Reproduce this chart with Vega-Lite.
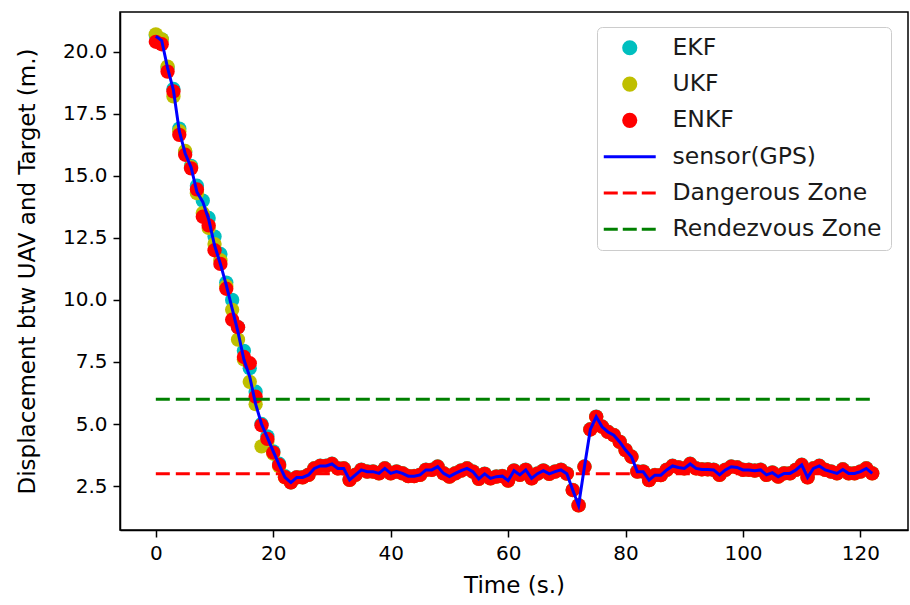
{
  "$schema": "https://vega.github.io/schema/vega-lite/v6.json",
  "width": 788,
  "height": 518,
  "autosize": {"type": "none"},
  "padding": {"left": 120, "top": 12, "right": 2, "bottom": 75},
  "background": "white",
  "config": {
    "view": {"stroke": "black", "strokeWidth": 1.5},
    "font": "DejaVu Sans",
    "axis": {
      "grid": false,
      "domainColor": "black",
      "domainWidth": 1.5,
      "tickColor": "black",
      "tickWidth": 1.5,
      "tickSize": 7,
      "labelFont": "DejaVu Sans",
      "labelFontSize": 20,
      "labelColor": "black",
      "labelPadding": 6,
      "titleFont": "DejaVu Sans",
      "titleFontSize": 23,
      "titleFontWeight": "normal",
      "titleColor": "black"
    },
    "legend": {
      "title": null,
      "orient": "none",
      "legendX": 477,
      "legendY": 15,
      "padding": 9,
      "fillColor": "white",
      "strokeColor": "#cccccc",
      "cornerRadius": 5,
      "symbolSize": 200,
      "symbolOffset": 12,
      "labelOffset": 31,
      "rowPadding": 11.3,
      "labelLimit": 400,
      "labelFont": "DejaVu Sans",
      "labelFontSize": 23.5,
      "labelColor": "#1a1a1a"
    }
  },
  "datasets": {
    "track": [
      {"t": 0, "gps": 20.62, "enkf": 20.4, "ekf": 20.65, "ukf": 20.7},
      {"t": 1, "gps": 20.45, "enkf": 20.3, "ekf": 20.5, "ukf": 20.5},
      {"t": 2, "gps": 19.35, "enkf": 19.2, "ekf": 19.35, "ukf": 19.4},
      {"t": 3, "gps": 18.45, "enkf": 18.4, "ekf": 18.5, "ukf": 18.2},
      {"t": 4, "gps": 16.8, "enkf": 16.65, "ekf": 16.9, "ukf": 16.8},
      {"t": 5, "gps": 15.9, "enkf": 15.85, "ekf": 15.95, "ukf": 16.0},
      {"t": 6, "gps": 15.35, "enkf": 15.3, "ekf": 15.4, "ukf": 15.35},
      {"t": 7, "gps": 14.35, "enkf": 14.45, "ekf": 14.6, "ukf": 14.3},
      {"t": 8, "gps": 13.95, "enkf": 13.35, "ekf": 14.0, "ukf": 13.5},
      {"t": 9, "gps": 13.25, "enkf": 13.0, "ekf": 13.3, "ukf": 12.9},
      {"t": 10, "gps": 12.2, "enkf": 12.0, "ekf": 12.55, "ukf": 12.25},
      {"t": 11, "gps": 11.45, "enkf": 11.45, "ekf": 11.85, "ukf": 11.6},
      {"t": 12, "gps": 10.6, "enkf": 10.45, "ekf": 10.7, "ukf": 10.55},
      {"t": 13, "gps": 9.65, "enkf": 9.2, "ekf": 10.0, "ukf": 9.6},
      {"t": 14, "gps": 8.7, "enkf": 8.9, "ekf": 8.9, "ukf": 8.4},
      {"t": 15, "gps": 7.6, "enkf": 7.7, "ekf": 7.95, "ukf": 7.6},
      {"t": 16, "gps": 6.9, "enkf": 7.45, "ekf": 7.25, "ukf": 6.7},
      {"t": 17, "gps": 5.8, "enkf": 6.1, "ekf": 6.3, "ukf": 5.8},
      {"t": 18, "gps": 5.0, "enkf": 4.95, "ekf": 5.0, "ukf": 4.1},
      {"t": 19, "gps": 4.45, "enkf": 4.4, "ekf": 4.5, "ukf": 4.3},
      {"t": 20, "gps": 3.9, "enkf": 3.85, "ekf": 3.9, "ukf": 3.8},
      {"t": 21, "gps": 3.35, "enkf": 3.35, "ekf": 3.4, "ukf": 3.3},
      {"t": 22, "gps": 2.85, "enkf": 2.86, "ekf": 2.9, "ukf": 2.85},
      {"t": 23, "gps": 2.64, "enkf": 2.65, "ekf": 2.65, "ukf": 2.65},
      {"t": 24, "gps": 2.85, "enkf": 2.85, "ekf": 2.86, "ukf": 2.85},
      {"t": 25, "gps": 2.85, "enkf": 2.85, "ekf": 2.86, "ukf": 2.85},
      {"t": 26, "gps": 2.95, "enkf": 2.95, "ekf": 2.96, "ukf": 2.95},
      {"t": 27, "gps": 3.21, "enkf": 3.21, "ekf": 3.22, "ukf": 3.21},
      {"t": 28, "gps": 3.31, "enkf": 3.31, "ekf": 3.32, "ukf": 3.31},
      {"t": 29, "gps": 3.31, "enkf": 3.31, "ekf": 3.32, "ukf": 3.31},
      {"t": 30, "gps": 3.39, "enkf": 3.39, "ekf": 3.4, "ukf": 3.39},
      {"t": 31, "gps": 3.21, "enkf": 3.21, "ekf": 3.22, "ukf": 3.21},
      {"t": 32, "gps": 3.21, "enkf": 3.21, "ekf": 3.22, "ukf": 3.21},
      {"t": 33, "gps": 2.75, "enkf": 2.75, "ekf": 2.76, "ukf": 2.75},
      {"t": 34, "gps": 2.95, "enkf": 2.95, "ekf": 2.96, "ukf": 2.95},
      {"t": 35, "gps": 3.15, "enkf": 3.15, "ekf": 3.16, "ukf": 3.15},
      {"t": 36, "gps": 3.08, "enkf": 3.08, "ekf": 3.09, "ukf": 3.08},
      {"t": 37, "gps": 3.08, "enkf": 3.08, "ekf": 3.09, "ukf": 3.08},
      {"t": 38, "gps": 3.01, "enkf": 3.01, "ekf": 3.02, "ukf": 3.01},
      {"t": 39, "gps": 3.21, "enkf": 3.21, "ekf": 3.22, "ukf": 3.21},
      {"t": 40, "gps": 3.01, "enkf": 3.01, "ekf": 3.02, "ukf": 3.01},
      {"t": 41, "gps": 3.08, "enkf": 3.08, "ekf": 3.09, "ukf": 3.08},
      {"t": 42, "gps": 3.01, "enkf": 3.01, "ekf": 3.02, "ukf": 3.01},
      {"t": 43, "gps": 2.9, "enkf": 2.9, "ekf": 2.91, "ukf": 2.9},
      {"t": 44, "gps": 2.9, "enkf": 2.9, "ekf": 2.91, "ukf": 2.9},
      {"t": 45, "gps": 2.95, "enkf": 2.95, "ekf": 2.96, "ukf": 2.95},
      {"t": 46, "gps": 3.15, "enkf": 3.15, "ekf": 3.16, "ukf": 3.15},
      {"t": 47, "gps": 3.15, "enkf": 3.15, "ekf": 3.16, "ukf": 3.15},
      {"t": 48, "gps": 3.28, "enkf": 3.28, "ekf": 3.29, "ukf": 3.28},
      {"t": 49, "gps": 3.01, "enkf": 3.01, "ekf": 3.02, "ukf": 3.01},
      {"t": 50, "gps": 2.88, "enkf": 2.88, "ekf": 2.89, "ukf": 2.88},
      {"t": 51, "gps": 3.01, "enkf": 3.01, "ekf": 3.02, "ukf": 3.01},
      {"t": 52, "gps": 3.12, "enkf": 3.12, "ekf": 3.13, "ukf": 3.12},
      {"t": 53, "gps": 3.21, "enkf": 3.21, "ekf": 3.22, "ukf": 3.21},
      {"t": 54, "gps": 3.08, "enkf": 3.08, "ekf": 3.09, "ukf": 3.08},
      {"t": 55, "gps": 2.79, "enkf": 2.79, "ekf": 2.8, "ukf": 2.79},
      {"t": 56, "gps": 2.99, "enkf": 2.99, "ekf": 3.0, "ukf": 2.99},
      {"t": 57, "gps": 2.81, "enkf": 2.81, "ekf": 2.82, "ukf": 2.81},
      {"t": 58, "gps": 2.88, "enkf": 2.88, "ekf": 2.89, "ukf": 2.88},
      {"t": 59, "gps": 2.9, "enkf": 2.9, "ekf": 2.91, "ukf": 2.9},
      {"t": 60, "gps": 2.72, "enkf": 2.72, "ekf": 2.73, "ukf": 2.72},
      {"t": 61, "gps": 3.12, "enkf": 3.12, "ekf": 3.13, "ukf": 3.12},
      {"t": 62, "gps": 2.95, "enkf": 2.95, "ekf": 2.96, "ukf": 2.95},
      {"t": 63, "gps": 3.15, "enkf": 3.15, "ekf": 3.16, "ukf": 3.15},
      {"t": 64, "gps": 2.81, "enkf": 2.81, "ekf": 2.82, "ukf": 2.81},
      {"t": 65, "gps": 3.0, "enkf": 3.0, "ekf": 3.01, "ukf": 3.0},
      {"t": 66, "gps": 3.12, "enkf": 3.12, "ekf": 3.13, "ukf": 3.12},
      {"t": 67, "gps": 2.99, "enkf": 2.99, "ekf": 3.0, "ukf": 2.99},
      {"t": 68, "gps": 3.08, "enkf": 3.08, "ekf": 3.09, "ukf": 3.08},
      {"t": 69, "gps": 3.15, "enkf": 3.15, "ekf": 3.16, "ukf": 3.15},
      {"t": 70, "gps": 3.0, "enkf": 3.0, "ekf": 3.01, "ukf": 3.0},
      {"t": 71, "gps": 2.34, "enkf": 2.34, "ekf": 2.35, "ukf": 2.34},
      {"t": 72, "gps": 1.72, "enkf": 1.72, "ekf": 1.73, "ukf": 1.72},
      {"t": 73, "gps": 3.28, "enkf": 3.28, "ekf": 3.29, "ukf": 3.28},
      {"t": 74, "gps": 4.78, "enkf": 4.78, "ekf": 4.79, "ukf": 4.78},
      {"t": 75, "gps": 5.29, "enkf": 5.29, "ekf": 5.3, "ukf": 5.29},
      {"t": 76, "gps": 4.89, "enkf": 4.89, "ekf": 4.9, "ukf": 4.89},
      {"t": 77, "gps": 4.68, "enkf": 4.68, "ekf": 4.69, "ukf": 4.68},
      {"t": 78, "gps": 4.55, "enkf": 4.55, "ekf": 4.56, "ukf": 4.55},
      {"t": 79, "gps": 4.28, "enkf": 4.28, "ekf": 4.29, "ukf": 4.28},
      {"t": 80, "gps": 3.95, "enkf": 3.95, "ekf": 3.96, "ukf": 3.95},
      {"t": 81, "gps": 3.68, "enkf": 3.68, "ekf": 3.69, "ukf": 3.68},
      {"t": 82, "gps": 3.08, "enkf": 3.08, "ekf": 3.09, "ukf": 3.08},
      {"t": 83, "gps": 3.08, "enkf": 3.08, "ekf": 3.09, "ukf": 3.08},
      {"t": 84, "gps": 2.74, "enkf": 2.74, "ekf": 2.75, "ukf": 2.74},
      {"t": 85, "gps": 2.94, "enkf": 2.94, "ekf": 2.95, "ukf": 2.94},
      {"t": 86, "gps": 2.94, "enkf": 2.94, "ekf": 2.95, "ukf": 2.94},
      {"t": 87, "gps": 3.15, "enkf": 3.15, "ekf": 3.16, "ukf": 3.15},
      {"t": 88, "gps": 3.31, "enkf": 3.31, "ekf": 3.32, "ukf": 3.31},
      {"t": 89, "gps": 3.25, "enkf": 3.25, "ekf": 3.26, "ukf": 3.25},
      {"t": 90, "gps": 3.21, "enkf": 3.21, "ekf": 3.22, "ukf": 3.21},
      {"t": 91, "gps": 3.39, "enkf": 3.39, "ekf": 3.4, "ukf": 3.39},
      {"t": 92, "gps": 3.21, "enkf": 3.21, "ekf": 3.22, "ukf": 3.21},
      {"t": 93, "gps": 3.17, "enkf": 3.17, "ekf": 3.18, "ukf": 3.17},
      {"t": 94, "gps": 3.17, "enkf": 3.17, "ekf": 3.18, "ukf": 3.17},
      {"t": 95, "gps": 3.15, "enkf": 3.15, "ekf": 3.16, "ukf": 3.15},
      {"t": 96, "gps": 2.95, "enkf": 2.95, "ekf": 2.96, "ukf": 2.95},
      {"t": 97, "gps": 3.15, "enkf": 3.15, "ekf": 3.16, "ukf": 3.15},
      {"t": 98, "gps": 3.28, "enkf": 3.28, "ekf": 3.29, "ukf": 3.28},
      {"t": 99, "gps": 3.25, "enkf": 3.25, "ekf": 3.26, "ukf": 3.25},
      {"t": 100, "gps": 3.15, "enkf": 3.15, "ekf": 3.16, "ukf": 3.15},
      {"t": 101, "gps": 3.15, "enkf": 3.15, "ekf": 3.16, "ukf": 3.15},
      {"t": 102, "gps": 3.12, "enkf": 3.12, "ekf": 3.13, "ukf": 3.12},
      {"t": 103, "gps": 3.15, "enkf": 3.15, "ekf": 3.16, "ukf": 3.15},
      {"t": 104, "gps": 2.95, "enkf": 2.95, "ekf": 2.96, "ukf": 2.95},
      {"t": 105, "gps": 3.04, "enkf": 3.04, "ekf": 3.05, "ukf": 3.04},
      {"t": 106, "gps": 2.88, "enkf": 2.88, "ekf": 2.89, "ukf": 2.88},
      {"t": 107, "gps": 3.01, "enkf": 3.01, "ekf": 3.02, "ukf": 3.01},
      {"t": 108, "gps": 3.01, "enkf": 3.01, "ekf": 3.02, "ukf": 3.01},
      {"t": 109, "gps": 3.15, "enkf": 3.15, "ekf": 3.16, "ukf": 3.15},
      {"t": 110, "gps": 3.35, "enkf": 3.35, "ekf": 3.36, "ukf": 3.35},
      {"t": 111, "gps": 2.85, "enkf": 2.85, "ekf": 2.86, "ukf": 2.85},
      {"t": 112, "gps": 3.21, "enkf": 3.21, "ekf": 3.22, "ukf": 3.21},
      {"t": 113, "gps": 3.31, "enkf": 3.31, "ekf": 3.32, "ukf": 3.31},
      {"t": 114, "gps": 3.15, "enkf": 3.15, "ekf": 3.16, "ukf": 3.15},
      {"t": 115, "gps": 3.08, "enkf": 3.08, "ekf": 3.09, "ukf": 3.08},
      {"t": 116, "gps": 3.01, "enkf": 3.01, "ekf": 3.02, "ukf": 3.01},
      {"t": 117, "gps": 3.17, "enkf": 3.17, "ekf": 3.18, "ukf": 3.17},
      {"t": 118, "gps": 3.01, "enkf": 3.01, "ekf": 3.02, "ukf": 3.01},
      {"t": 119, "gps": 3.01, "enkf": 3.01, "ekf": 3.02, "ukf": 3.01},
      {"t": 120, "gps": 3.08, "enkf": 3.08, "ekf": 3.09, "ukf": 3.08},
      {"t": 121, "gps": 3.21, "enkf": 3.21, "ekf": 3.22, "ukf": 3.21},
      {"t": 122, "gps": 3.01, "enkf": 3.01, "ekf": 3.02, "ukf": 3.01}
    ],
    "zones": [
      {"zone": "Dangerous Zone", "y": 3, "t0": 0, "t1": 122},
      {"zone": "Rendezvous Zone", "y": 6, "t0": 0, "t1": 122}
    ]
  },
  "encoding": {
    "x": {
      "field": "t",
      "type": "quantitative",
      "scale": {"domain": [-6.1, 128.1], "nice": false, "zero": false},
      "axis": {"values": [0, 20, 40, 60, 80, 100, 120], "title": "Time (s.)", "titlePadding": 11}
    }
  },
  "layer": [
    {
      "data": {"name": "track"},
      "mark": {"type": "point", "filled": true, "shape": "circle", "size": 205, "opacity": 1},
      "encoding": {
        "y": {
          "field": "ekf",
          "type": "quantitative",
          "scale": {"domain": [0.73, 21.6], "nice": false, "zero": false},
          "axis": {"values": [2.5, 5, 7.5, 10, 12.5, 15, 17.5, 20], "format": ".1f", "title": "Displacement btw UAV and Target (m.)", "titlePadding": 23}
        },
        "color": {
          "datum": "EKF",
          "type": "nominal",
          "scale": {
            "domain": ["EKF", "UKF", "ENKF", "sensor(GPS)", "Dangerous Zone", "Rendezvous Zone"],
            "range": ["#00bfbf", "#bfbf00", "#ff0000", "#0000ff", "#ff0000", "#008000"]
          },
          "legend": {
            "title": null,
            "encode": {
              "symbols": {
                "update": {
                  "shape": {"signal": "(datum.value === 'EKF' || datum.value === 'UKF' || datum.value === 'ENKF') ? 'circle' : 'stroke'"},
                  "size": {"signal": "(datum.value === 'EKF' || datum.value === 'UKF' || datum.value === 'ENKF') ? 230 : 2700"},
                  "fill": {"signal": "(datum.value === 'EKF' || datum.value === 'UKF' || datum.value === 'ENKF') ? scale('color', datum.value) : 'transparent'"},
                  "stroke": {"signal": "scale('color', datum.value)"},
                  "strokeWidth": {"signal": "(datum.value === 'EKF' || datum.value === 'UKF' || datum.value === 'ENKF') ? 0 : 3"},
                  "strokeDash": {"signal": "(datum.value === 'Dangerous Zone' || datum.value === 'Rendezvous Zone') ? [14, 5] : [1, 0]"},
                  "opacity": {"value": 1},
                  "fillOpacity": {"value": 1},
                  "strokeOpacity": {"value": 1}
                }
              }
            }
          }
        }
      }
    },
    {
      "data": {"name": "track"},
      "mark": {"type": "point", "filled": true, "shape": "circle", "size": 205, "opacity": 1},
      "encoding": {
        "y": {"field": "ukf", "type": "quantitative"},
        "color": {"datum": "UKF", "type": "nominal"}
      }
    },
    {
      "data": {"name": "track"},
      "mark": {"type": "point", "filled": true, "shape": "circle", "size": 205, "opacity": 1},
      "encoding": {
        "y": {"field": "enkf", "type": "quantitative"},
        "color": {"datum": "ENKF", "type": "nominal"}
      }
    },
    {
      "data": {"name": "zones"},
      "mark": {"type": "rule", "strokeWidth": 3, "strokeDash": [14, 6]},
      "encoding": {
        "x": {"field": "t0", "type": "quantitative"},
        "x2": {"field": "t1"},
        "y": {"field": "y", "type": "quantitative"},
        "color": {
          "field": "zone",
          "type": "nominal",
          "legend": {
            "title": null,
            "encode": {
              "symbols": {
                "update": {
                  "shape": {"signal": "(datum.value === 'EKF' || datum.value === 'UKF' || datum.value === 'ENKF') ? 'circle' : 'stroke'"},
                  "size": {"signal": "(datum.value === 'EKF' || datum.value === 'UKF' || datum.value === 'ENKF') ? 230 : 2700"},
                  "fill": {"signal": "(datum.value === 'EKF' || datum.value === 'UKF' || datum.value === 'ENKF') ? scale('color', datum.value) : 'transparent'"},
                  "stroke": {"signal": "scale('color', datum.value)"},
                  "strokeWidth": {"signal": "(datum.value === 'EKF' || datum.value === 'UKF' || datum.value === 'ENKF') ? 0 : 3"},
                  "strokeDash": {"signal": "(datum.value === 'Dangerous Zone' || datum.value === 'Rendezvous Zone') ? [14, 5] : [1, 0]"},
                  "opacity": {"value": 1},
                  "fillOpacity": {"value": 1},
                  "strokeOpacity": {"value": 1}
                }
              }
            }
          }
        }
      }
    },
    {
      "data": {"name": "track"},
      "mark": {"type": "line", "strokeWidth": 3, "interpolate": "linear"},
      "encoding": {
        "y": {"field": "gps", "type": "quantitative"},
        "color": {"datum": "sensor(GPS)", "type": "nominal"}
      }
    }
  ]
}
